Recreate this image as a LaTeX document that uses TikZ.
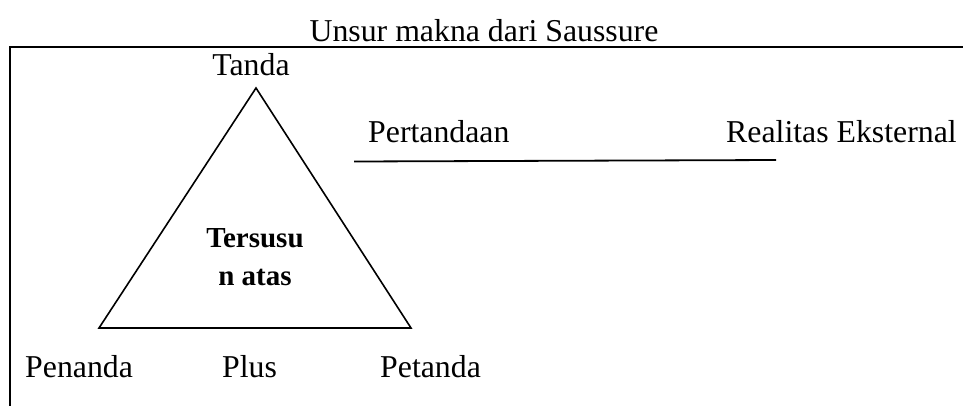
\documentclass[tikz,border=0pt]{standalone}
\usepackage{fontspec}
\setmainfont{Liberation Serif}
\tikzset{
  lbl/.style={inner sep=0pt, font=\fontsize{31.8}{36}\selectfont},
  blbl/.style={inner sep=0pt, font=\fontsize{29}{38}\selectfont\bfseries, align=center},
}
\begin{document}
\begin{tikzpicture}[x=1pt,y=-1pt]
\useasboundingbox (0,0) rectangle (963,405);
\begin{scope}
\clip (0,0) rectangle (963,405);
\draw[line width=2pt] (10,420) -- (10,47) -- (980,47);
\end{scope}
\node[lbl, anchor=base] (title) at (484,41) {Unsur makna dari Saussure};
\coordinate (apex) at (256,88);
\coordinate (bl) at (99,328);
\coordinate (br) at (411,328);
\draw[line width=1.6pt, line join=miter] (apex) -- (bl) -- (br) -- cycle;
\node[lbl, anchor=base] (tanda) at (251,75) {Tanda};
\node[blbl, anchor=base] (t1) at (255,247) {Tersusu};
\node[blbl, anchor=base] (t2) at (255,285) {n atas};
\node[lbl, anchor=base west] (penanda) at (25,377) {Penanda};
\node[lbl, anchor=base west] (plus) at (222,377) {Plus};
\node[lbl, anchor=base west] (petanda) at (380,377) {Petanda};
\node[lbl, anchor=base west] (pert) at (368,142) {Pertandaan};
\node[lbl, anchor=base west] (real) at (726,142) {Realitas Eksternal};
\coordinate (l1) at (354,161.5);
\coordinate (l2) at (776,160);
\draw[line width=1.8pt] (l1) -- (l2);
\end{tikzpicture}
\end{document}
